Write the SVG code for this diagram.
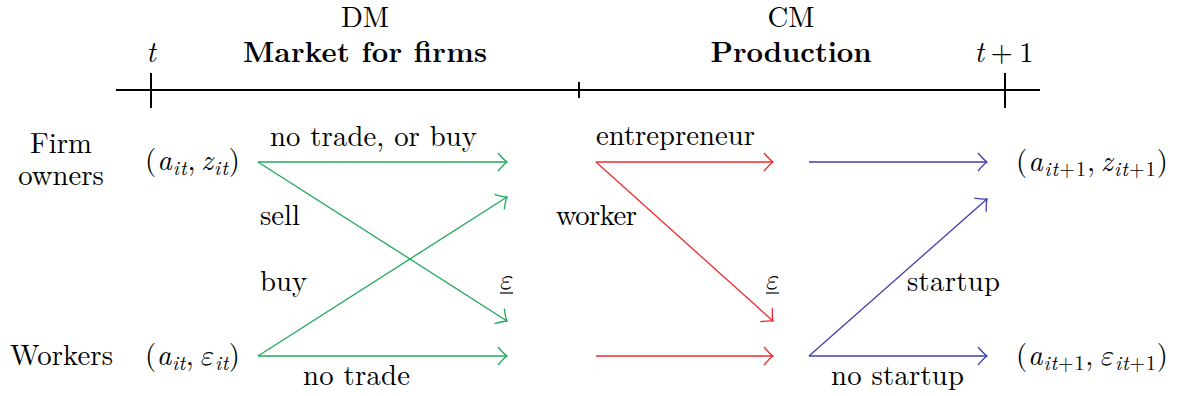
<svg xmlns="http://www.w3.org/2000/svg" width="1178" height="396" viewBox="0 0 1178 396">
<style>
text { font-size: 28.7px; fill: #000; }
.b { font-weight: bold; }
.i { font-style: italic; }
.s { font-size: 20px; font-style: italic; }
.n { font-size: 20px; font-style: normal; }
.axis { stroke: #000; stroke-width: 2; fill: none; }
.c { stroke-width: 1.3; fill: none; }
.g { stroke: #1fa85b; }
.rd { stroke: #ee2a2e; }
.bl { stroke: #3f3fa8; }
.ul { stroke: #000; stroke-width: 1.2; }
</style>
<defs>
<marker id="ag" viewBox="-11 -11 13 22" markerWidth="13" markerHeight="22" refX="0" refY="0" orient="auto" markerUnits="userSpaceOnUse">
<path d="M-9,-9 Q-3,-2 0,0 Q-3,2 -9,9" fill="none" stroke="#1fa85b" stroke-width="1.3"/>
</marker>
<marker id="ar" viewBox="-11 -11 13 22" markerWidth="13" markerHeight="22" refX="0" refY="0" orient="auto" markerUnits="userSpaceOnUse">
<path d="M-9,-9 Q-3,-2 0,0 Q-3,2 -9,9" fill="none" stroke="#ee2a2e" stroke-width="1.3"/>
</marker>
<marker id="ab" viewBox="-11 -11 13 22" markerWidth="13" markerHeight="22" refX="0" refY="0" orient="auto" markerUnits="userSpaceOnUse">
<path d="M-9,-9 Q-3,-2 0,0 Q-3,2 -9,9" fill="none" stroke="#3f3fa8" stroke-width="1.3"/>
</marker>
</defs>

<g id="timeline" font-family="Latin Modern Roman, Liberation Serif, serif">
<line class="axis" x1="116" y1="90" x2="1040" y2="90"/>
<line class="axis" x1="151" y1="73" x2="151" y2="108"/>
<line class="axis" x1="579" y1="82" x2="579" y2="98" stroke-width="1.5"/>
<line class="axis" x1="1005" y1="73" x2="1005" y2="108"/>
<text x="151" y="62" text-anchor="middle" class="i" font-family="Latin Modern Roman, Liberation Serif, serif">t</text>
<text x="1004" y="62" text-anchor="middle" font-family="Latin Modern Roman, Liberation Serif, serif"><tspan class="i">t</tspan><tspan dx="6.4">+</tspan><tspan dx="6.4">1</tspan></text>
</g>

<g id="dm-header" font-family="Latin Modern Roman, Liberation Serif, serif">
<text x="365" y="27" text-anchor="middle" font-family="Latin Modern Roman, Liberation Serif, serif">DM</text>
<text x="365" y="62" text-anchor="middle" class="b" font-family="Latin Modern Roman, Liberation Serif, serif" textLength="244" lengthAdjust="spacing">Market for firms</text>
</g>
<g id="cm-header" font-family="Latin Modern Roman, Liberation Serif, serif">
<text x="791" y="27" text-anchor="middle" font-family="Latin Modern Roman, Liberation Serif, serif">CM</text>
<text x="791" y="62" text-anchor="middle" class="b" font-family="Latin Modern Roman, Liberation Serif, serif" textLength="161" lengthAdjust="spacing">Production</text>
</g>

<g id="label-firm-owners" font-family="Latin Modern Roman, Liberation Serif, serif">
<text x="61" y="153" text-anchor="middle" font-family="Latin Modern Roman, Liberation Serif, serif">Firm</text>
<text x="61" y="185" text-anchor="middle" font-family="Latin Modern Roman, Liberation Serif, serif">owners</text>
</g>
<g id="label-workers" font-family="Latin Modern Roman, Liberation Serif, serif">
<text x="10" y="365" font-family="Latin Modern Roman, Liberation Serif, serif" textLength="103" lengthAdjust="spacing">Workers</text>
</g>

<g id="node-firm-t" font-family="Latin Modern Roman, Liberation Serif, serif">
<text x="145" y="170" font-family="Latin Modern Roman, Liberation Serif, serif" textLength="95" lengthAdjust="spacing">(<tspan class="i">a</tspan><tspan class="s" dy="4.5">it</tspan><tspan dy="-4.5">,</tspan><tspan class="i" dx="4.8">z</tspan><tspan class="s" dy="4.5">it</tspan><tspan dy="-4.5">)</tspan></text>
</g>
<g id="node-worker-t" font-family="Latin Modern Roman, Liberation Serif, serif">
<text x="145" y="365" font-family="Latin Modern Roman, Liberation Serif, serif" textLength="95" lengthAdjust="spacing">(<tspan class="i">a</tspan><tspan class="s" dy="4.5">it</tspan><tspan dy="-4.5">,</tspan><tspan class="i" dx="4.8" font-family="Latin Modern Math, Latin Modern Roman, Liberation Serif, serif">ε</tspan><tspan class="s" dy="4.5">it</tspan><tspan dy="-4.5">)</tspan></text>
</g>
<g id="node-firm-t1" font-family="Latin Modern Roman, Liberation Serif, serif">
<text x="1016" y="171" font-family="Latin Modern Roman, Liberation Serif, serif" textLength="152" lengthAdjust="spacing">(<tspan class="i">a</tspan><tspan class="s" dy="4.5">it</tspan><tspan class="n">+1</tspan><tspan dy="-4.5">,</tspan><tspan class="i" dx="4.8">z</tspan><tspan class="s" dy="4.5">it</tspan><tspan class="n">+1</tspan><tspan dy="-4.5">)</tspan></text>
</g>
<g id="node-worker-t1" font-family="Latin Modern Roman, Liberation Serif, serif">
<text x="1016" y="365" font-family="Latin Modern Roman, Liberation Serif, serif" textLength="152" lengthAdjust="spacing">(<tspan class="i">a</tspan><tspan class="s" dy="4.5">it</tspan><tspan class="n">+1</tspan><tspan dy="-4.5">,</tspan><tspan class="i" dx="4.8" font-family="Latin Modern Math, Latin Modern Roman, Liberation Serif, serif">ε</tspan><tspan class="s" dy="4.5">it</tspan><tspan class="n">+1</tspan><tspan dy="-4.5">)</tspan></text>
</g>

<g id="connectors">
<line class="c g" x1="258" y1="162" x2="507" y2="162" marker-end="url(#ag)"/>
<line class="c g" x1="258" y1="162" x2="507" y2="321" marker-end="url(#ag)"/>
<line class="c g" x1="258" y1="356" x2="507" y2="197" marker-end="url(#ag)"/>
<line class="c g" x1="258" y1="356" x2="507" y2="356" marker-end="url(#ag)"/>
<line class="c rd" x1="596" y1="162" x2="773" y2="162" marker-end="url(#ar)"/>
<line class="c rd" x1="596" y1="162" x2="773" y2="321" marker-end="url(#ar)"/>
<line class="c rd" x1="596" y1="356" x2="773" y2="356" marker-end="url(#ar)"/>
<line class="c bl" x1="809" y1="162" x2="987" y2="162" marker-end="url(#ab)"/>
<line class="c bl" x1="809" y1="356" x2="987" y2="199" marker-end="url(#ab)"/>
<line class="c bl" x1="809" y1="356" x2="987" y2="356" marker-end="url(#ab)"/>
</g>

<g id="connector-labels" font-family="Latin Modern Roman, Liberation Serif, serif">
<text x="270" y="146" font-family="Latin Modern Roman, Liberation Serif, serif" textLength="207" lengthAdjust="spacing">no trade, or buy</text>
<text x="260" y="225" font-family="Latin Modern Roman, Liberation Serif, serif">sell</text>
<text x="260" y="291" font-family="Latin Modern Roman, Liberation Serif, serif">buy</text>
<text x="303" y="385" font-family="Latin Modern Roman, Liberation Serif, serif" textLength="107" lengthAdjust="spacing">no trade</text>
<text x="506" y="289" text-anchor="middle" class="i" font-family="Latin Modern Math, Latin Modern Roman, Liberation Serif, serif">ε</text>
<line class="ul" x1="500" y1="293" x2="513" y2="293"/>
<text x="596" y="145" font-family="Latin Modern Roman, Liberation Serif, serif" textLength="159" lengthAdjust="spacing">entrepreneur</text>
<text x="556" y="225" font-family="Latin Modern Roman, Liberation Serif, serif" textLength="81" lengthAdjust="spacing">worker</text>
<text x="772" y="289" text-anchor="middle" class="i" font-family="Latin Modern Math, Latin Modern Roman, Liberation Serif, serif">ε</text>
<line class="ul" x1="766" y1="293" x2="779" y2="293"/>
<text x="907" y="291" font-family="Latin Modern Roman, Liberation Serif, serif" textLength="93" lengthAdjust="spacing">startup</text>
<text x="831" y="385" font-family="Latin Modern Roman, Liberation Serif, serif" textLength="133" lengthAdjust="spacing">no startup</text>
</g>
</svg>
